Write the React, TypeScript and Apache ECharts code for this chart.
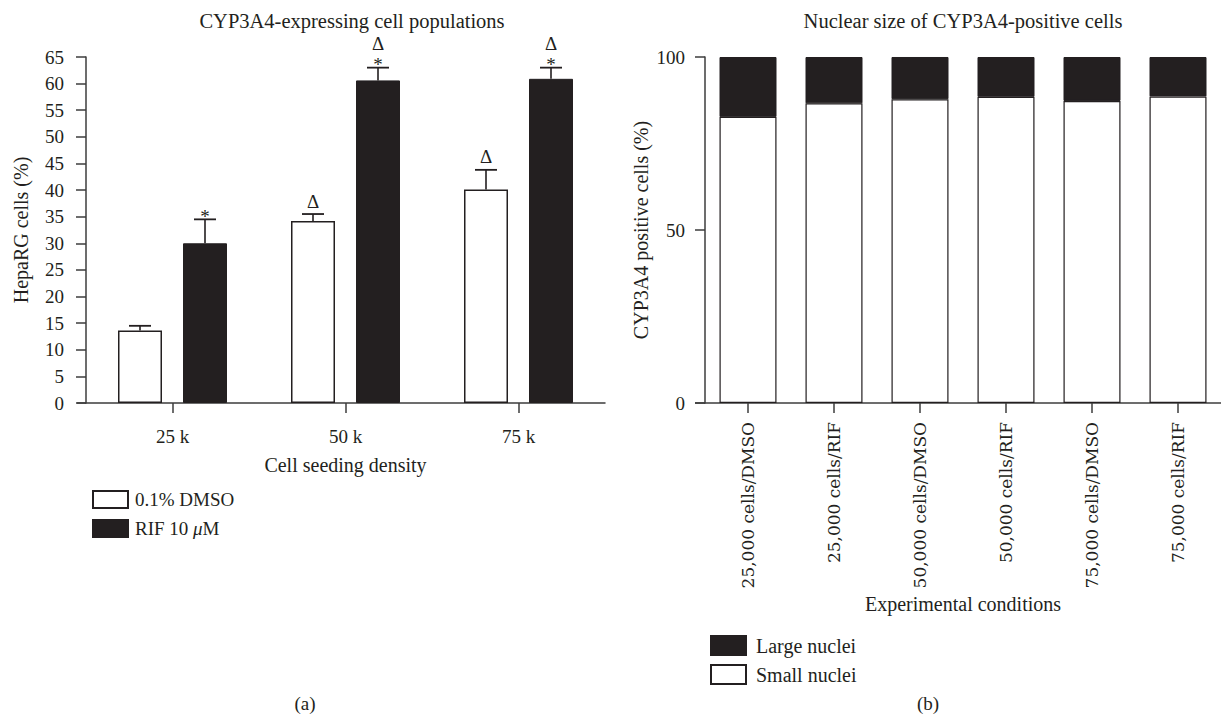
import React, { useEffect, useRef } from "react";
import * as echarts from "echarts";

// ---- Panel (a) data ----
const densityCategories = ["25 k", "50 k", "75 k"];
const dmsoValues = [13.6, 34.2, 40.1];
const dmsoErrTop = [14.5, 35.5, 43.8];
const rifValues = [30.0, 60.6, 60.9];
const rifErrTop = [34.5, 63.0, 63.0];
const dmsoMarks = [[], ["Δ"], ["Δ"]];
const rifMarks = [["*"], ["*", "Δ"], ["*", "Δ"]];
const leftYTicks = { min: 0, max: 65, interval: 5 };

// ---- Panel (b) data ----
const conditionCategories = [
  "25,000 cells/DMSO",
  "25,000 cells/RIF",
  "50,000 cells/DMSO",
  "50,000 cells/RIF",
  "75,000 cells/DMSO",
  "75,000 cells/RIF",
];
const smallNuclei = [82.7, 86.6, 87.8, 88.5, 87.3, 88.6];
const largeNuclei = [17.3, 13.4, 12.2, 11.5, 12.7, 11.4];
const rightYTicks = { min: 0, max: 100, interval: 50 };

const INK = "#231f20";
const AXIS = "#3d3d3d";
const SERIF = "'Liberation Serif', 'Times New Roman', serif";
const BAR_W = 44;
const BAR_GAP = 21;

function makeErr(name: string, vals: number[], errs: number[], marks: string[][], offset: number) {
  return {
    type: "custom",
    name,
    xAxisIndex: 0,
    yAxisIndex: 0,
    z: 5,
    silent: true,
    data: vals.map((v, i) => [i, v, errs[i]]),
    renderItem: (params: any, api: any) => {
      const i = api.value(0);
      const base = api.coord([i, api.value(1)]);
      const top = api.coord([i, api.value(2)]);
      const x = base[0] + offset;
      const capY = top[1];
      const children: any[] = [
        { type: "line", shape: { x1: x, y1: base[1], x2: x, y2: capY }, style: { stroke: INK, lineWidth: 1.6 } },
        { type: "line", shape: { x1: x - 11, y1: capY, x2: x + 11, y2: capY }, style: { stroke: INK, lineWidth: 1.8 } },
      ];
      let cursor = capY;
      const ms = marks[params.dataIndex] || [];
      ms.forEach((m) => {
        let center;
        let ty;
        if (m === "*") {
          center = cursor - 8;
          ty = center + 5;
          cursor -= 11;
        } else {
          center = cursor - 13;
          ty = center;
          cursor -= 22;
        }
        children.push({
          type: "text",
          style: {
            text: m,
            x,
            y: ty,
            fill: INK,
            font: `19px ${SERIF}`,
            textAlign: "center",
            textVerticalAlign: "middle",
          },
        });
      });
      return { type: "group", children };
    },
  };
}

export default function App() {
  const ref = useRef<HTMLDivElement>(null);
  useEffect(() => {
    if (!ref.current) return;
    const chart = echarts.init(ref.current, null, { renderer: "svg" });
    const axisLine = { show: true, lineStyle: { color: AXIS, width: 1.5 } };
    const axisTick = { show: true, length: 10, lineStyle: { color: AXIS, width: 1.5 } };
    const tickText = { color: INK, fontFamily: SERIF, fontSize: 19 };
    const nameText = { color: INK, fontFamily: SERIF, fontSize: 20 };
    const offset = (BAR_W + BAR_GAP) / 2;

    chart.setOption({
      animation: false,
      backgroundColor: "#ffffff",
      title: [
        { text: "CYP3A4-expressing cell populations", left: 347, top: 5, textAlign: "center", textStyle: { ...nameText, fontWeight: "normal", fontSize: 20.5 } },
        { text: "Nuclear size of CYP3A4-positive cells", left: 958, top: 5, textAlign: "center", textStyle: { ...nameText, fontWeight: "normal", fontSize: 20.5 } },
      ],
      legend: [
        {
          data: ["0.1% DMSO", "RIF 10 μM"],
          orient: "vertical",
          left: 87,
          top: 485,
          itemWidth: 35,
          itemHeight: 17,
          itemGap: 10,
          icon: "rect",
          selectedMode: false,
          formatter: (n: string) => n.replace("μ", "{i|μ}"),
          textStyle: { ...tickText, padding: [0, 0, 0, 2], rich: { i: { fontStyle: "italic", fontFamily: SERIF, fontSize: 19, color: INK } } },
        },
        {
          data: ["Large nuclei", "Small nuclei"],
          orient: "vertical",
          left: 705,
          top: 630,
          itemWidth: 35,
          itemHeight: 19,
          itemGap: 8,
          icon: "rect",
          selectedMode: false,
          textStyle: { ...tickText, fontSize: 20, padding: [0, 0, 0, 5] },
        },
      ],
      grid: [
        { left: 86, top: 57, width: 519, height: 346 },
        { left: 705, top: 57, width: 517, height: 346 },
      ],
      xAxis: [
        {
          type: "category",
          gridIndex: 0,
          data: densityCategories,
          axisLine,
          axisTick: { ...axisTick, alignWithLabel: true },
          axisLabel: { ...tickText, margin: 24 },
          name: "Cell seeding density",
          nameLocation: "middle",
          nameGap: 52,
          nameTextStyle: nameText,
          splitLine: { show: false },
        },
        {
          type: "category",
          gridIndex: 1,
          data: conditionCategories,
          axisLine,
          axisTick: { ...axisTick, alignWithLabel: true },
          axisLabel: { color: INK, fontFamily: "'DejaVu Serif', serif", fontSize: 17, rotate: 90, margin: 19, interval: 0 },
          name: "Experimental conditions",
          nameLocation: "middle",
          nameGap: 191,
          nameTextStyle: nameText,
          splitLine: { show: false },
        },
      ],
      yAxis: [
        {
          type: "value",
          gridIndex: 0,
          ...leftYTicks,
          axisLine,
          axisTick,
          axisLabel: { ...tickText, margin: 22 },
          splitLine: { show: false },
          name: "HepaRG cells (%)",
          nameLocation: "middle",
          nameGap: 55,
          nameTextStyle: nameText,
        },
        {
          type: "value",
          gridIndex: 1,
          ...rightYTicks,
          axisLine,
          axisTick,
          axisLabel: { ...tickText, margin: 20 },
          splitLine: { show: false },
          name: "CYP3A4 positive cells (%)",
          nameLocation: "middle",
          nameGap: 54,
          nameTextStyle: nameText,
        },
      ],
      series: [
        {
          name: "0.1% DMSO",
          type: "bar",
          xAxisIndex: 0,
          yAxisIndex: 0,
          data: dmsoValues,
          barWidth: BAR_W,
          barGap: `${(BAR_GAP / BAR_W) * 100}%`,
          itemStyle: { color: "#ffffff", borderColor: INK, borderWidth: 1.5 },
        },
        {
          name: "RIF 10 μM",
          type: "bar",
          xAxisIndex: 0,
          yAxisIndex: 0,
          data: rifValues,
          barWidth: BAR_W,
          itemStyle: { color: INK, borderColor: INK, borderWidth: 1 },
        },
        makeErr("dmsoErr", dmsoValues, dmsoErrTop, dmsoMarks, -offset),
        makeErr("rifErr", rifValues, rifErrTop, rifMarks, offset),
        {
          name: "Small nuclei",
          type: "bar",
          xAxisIndex: 1,
          yAxisIndex: 1,
          stack: "nuclei",
          data: smallNuclei,
          barWidth: 57,
          itemStyle: { color: "#ffffff", borderColor: INK, borderWidth: 1.2 },
        },
        {
          name: "Large nuclei",
          type: "bar",
          xAxisIndex: 1,
          yAxisIndex: 1,
          stack: "nuclei",
          data: largeNuclei,
          barWidth: 57,
          itemStyle: { color: INK, borderColor: INK, borderWidth: 1 },
        },
      ],
      graphic: [
        { type: "line", shape: { x1: 77, y1: 403, x2: 86, y2: 403 }, style: { stroke: AXIS, lineWidth: 1.5 } },
        { type: "line", shape: { x1: 695, y1: 403, x2: 705, y2: 403 }, style: { stroke: AXIS, lineWidth: 1.5 } },
        { type: "text", x: 305, y: 703, style: { text: "(a)", fill: INK, font: `19px ${SERIF}`, textAlign: "center", textVerticalAlign: "middle" } },
        { type: "text", x: 928, y: 703, style: { text: "(b)", fill: INK, font: `19px ${SERIF}`, textAlign: "center", textVerticalAlign: "middle" } },
      ],
    });
    return () => chart.dispose();
  }, []);
  return <div ref={ref} style={{ position: "fixed", left: 0, top: 0, width: 1221, height: 721, background: "#fff" }} />;
}
